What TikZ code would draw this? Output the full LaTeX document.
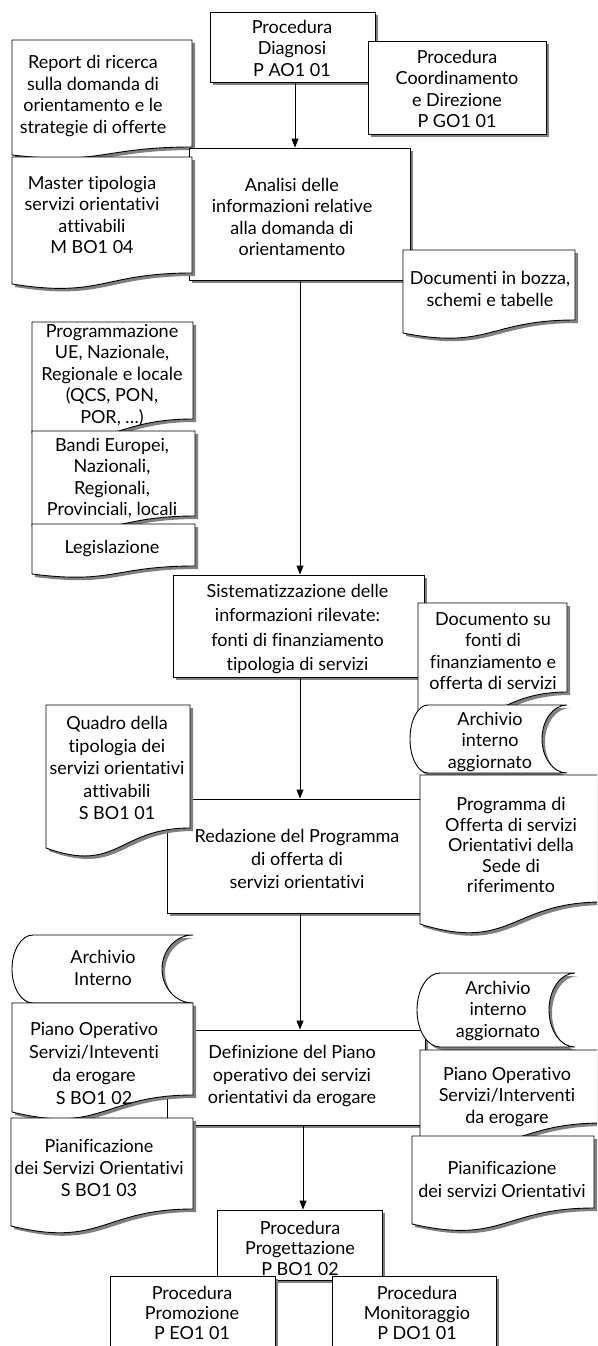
\documentclass[tikz,border=0pt]{standalone}
\usepackage{fontspec}
\setmainfont{Lato}[Ligatures={NoCommon}]
\usetikzlibrary{arrows.meta,shadows}
\definecolor{shadowgray}{gray}{0.5}
% document shape: x0, ytop, x1, ybottom-left, rise d
\newcommand{\docshape}[5]{%
  \pgfmathsetmacro{\dxm}{(#1+#3)/2}%
  \pgfmathsetmacro{\dyr}{#4-#5}%
  \pgfmathsetmacro{\dyl}{#4+1.3*#5}%
  \fill[shadowgray,xshift=3pt,yshift=-3pt] (#1,#2) -- (#3,#2) -- (#3,\dyr) .. controls (\dxm,\dyr) and (\dxm,\dyl) .. (#1,#4) -- cycle;
  \draw[shapeline] (#1,#2) -- (#3,#2) -- (#3,\dyr) .. controls (\dxm,\dyr) and (\dxm,\dyl) .. (#1,#4) -- cycle;}
% stored data shape: xL, ytop, xR, ybottom, left bulge, right bulge
\newcommand{\storeshape}[6]{%
  \pgfmathsetmacro{\sym}{(#2+#4)/2}%
  \pgfmathsetmacro{\sr}{(#4-#2)/2*0.5523}%
  \pgfmathsetmacro{\sya}{\sym-\sr}%
  \pgfmathsetmacro{\syb}{\sym+\sr}%
  \pgfmathsetmacro{\sxr}{#3-#6}%
  \pgfmathsetmacro{\sxrc}{#3-0.5523*#6}%
  \pgfmathsetmacro{\sxl}{#1-#5}%
  \pgfmathsetmacro{\sxlc}{#1-0.5523*#5}%
  \fill[shadowgray,xshift=3pt,yshift=-3pt] (#1,#2) -- (#3,#2) .. controls (\sxrc,#2) and (\sxr,\sya) .. (\sxr,\sym) .. controls (\sxr,\syb) and (\sxrc,#4) .. (#3,#4) -- (#1,#4) .. controls (\sxlc,#4) and (\sxl,\syb) .. (\sxl,\sym) .. controls (\sxl,\sya) and (\sxlc,#2) .. (#1,#2) -- cycle;
  \draw[shapeline] (#1,#2) -- (#3,#2) .. controls (\sxrc,#2) and (\sxr,\sya) .. (\sxr,\sym) .. controls (\sxr,\syb) and (\sxrc,#4) .. (#3,#4) -- (#1,#4) .. controls (\sxlc,#4) and (\sxl,\syb) .. (\sxl,\sym) .. controls (\sxl,\sya) and (\sxlc,#2) .. (#1,#2) -- cycle;}
\begin{document}
\begin{tikzpicture}[x=1pt,y=-1pt,
  txt/.style={font=\fontsize{18}{21.5}\selectfont, align=center, inner sep=0pt},
  shapeline/.style={draw=black, fill=white, line width=0.9pt},
  procbox/.style={shapeline, general shadow={fill=shadowgray, shadow xshift=3pt, shadow yshift=-3pt}, inner sep=0pt},
  arr/.style={line width=0.9pt, -{Triangle[length=9pt,width=7pt]}}]
\useasboundingbox (0,0) rectangle (597,1346);
\clip (0,0) rectangle (597,1346);
% top
\node[procbox, minimum width=165pt, minimum height=70pt] (diag) at (292.5,47) {};
\node[txt] (diagT) at (292,48) {Procedura\\Diagnosi\\P AO1 01};
\node[procbox, minimum width=178pt, minimum height=93pt] (coord) at (457,87.5) {};
\node[txt] (coordT) at (457,89) {Procedura\\Coordinamento\\e Direzione\\P GO1 01};
\docshape{12}{40}{192}{155}{8}
\node[txt] (report) at (93,96) {Report di ricerca\\sulla domanda di\\orientamento e le\\strategie di offerte};
\node[procbox, minimum width=221pt, minimum height=132pt] (analisi) at (299.5,214) {};
\node[txt] (analisiT) at (292,217) {Analisi delle\\informazioni relative\\alla domanda di\\orientamento};
\docshape{12}{157}{192}{284}{11}
\node[txt] (master) at (92,215) {Master tipologia\\servizi orientativi\\attivabili\\M BO1 04};
\docshape{403}{250}{575}{333}{13}
\node[txt] (bozza) at (490,289) {Documenti in bozza,\\schemi e tabelle};
% sources
\docshape{32}{322}{193}{433}{14}
\node[txt] (progr) at (112,375) {Programmazione\\UE, Nazionale,\\Regionale e locale\\(QCS, PON,\\POR, …)};
\docshape{32}{431}{195}{526}{10}
\node[txt] (bandi) at (112,478) {Bandi Europei,\\Nazionali,\\Regionali,\\Provinciali, locali};
\docshape{32}{524}{195}{574}{8}
\node[txt] (legis) at (112,549) {Legislazione};
% sistematizzazione
\node[procbox, minimum width=251pt, minimum height=102pt] (sist) at (298.5,626) {};
\node[txt, font=\fontsize{18}{24.5}\selectfont] (sistT) at (297.5,629) {Sistematizzazione delle\\informazioni rilevate:\\fonti di finanziamento\\tipologia di servizi};
\docshape{418}{603}{567}{712}{20}
\node[txt] (docfonti) at (493,651) {Documento su\\fonti di\\finanziamento e\\offerta di servizi};
\storeshape{428}{705}{567}{773}{18}{25}
\node[txt] (archA) at (490,742) {Archivio\\interno\\aggiornato};
% redazione
\node[procbox, minimum width=258pt, minimum height=114pt] (red) at (296,856) {};
\node[txt, font=\fontsize{18}{23}\selectfont] (redT) at (297,859) {Redazione del Programma\\di offerta di\\servizi orientativi};
\docshape{46}{705}{190}{848}{20}
\node[txt, font=\fontsize{18}{22.5}\selectfont] (quadro) at (117,768) {Quadro della\\tipologia dei\\servizi orientativi\\attivabili\\S BO1 01};
\docshape{420}{775}{602}{924}{22}
\node[txt, font=\fontsize{18}{20.5}\selectfont] (programma) at (511,845) {Programma di\\Offerta di servizi\\Orientativi della\\Sede di\\riferimento};
% definizione
\storeshape{33}{935}{193}{1003}{21}{31}
\node[txt] (archB) at (103,968) {Archivio\\Interno};
\node[procbox, minimum width=258pt, minimum height=95pt] (def) at (296,1077.5) {};
\node[txt, font=\fontsize{18}{22.5}\selectfont] (defT) at (292,1076) {Definizione del Piano\\operativo dei servizi\\orientativi da erogare};
\docshape{12}{1003}{193}{1112}{17}
\node[txt, font=\fontsize{18}{23}\selectfont] (pianoL) at (94,1063) {Piano Operativo\\Servizi/Inteventi\\da erogare\\S BO1 02};
\docshape{11}{1118}{193}{1226}{17}
\node[txt, font=\fontsize{18}{22}\selectfont] (pianifL) at (99,1168) {Pianificazione\\dei Servizi Orientativi\\S BO1 03};
\storeshape{440}{973}{575}{1047}{23}{26}
\node[txt] (archC) at (498,1011) {Archivio\\interno\\aggiornato};
\docshape{420}{1050}{602}{1140}{17}
\node[txt] (pianoR) at (507,1097) {Piano Operativo\\Servizi/Interventi\\da erogare};
\docshape{412}{1136}{594}{1224}{16}
\node[txt, font=\fontsize{18}{23}\selectfont] (pianifR) at (502,1179) {Pianificazione\\dei servizi Orientativi};
% bottom procedures
\node[procbox, minimum width=165pt, minimum height=70pt] (prog) at (299.5,1245) {};
\node[txt, font=\fontsize{18}{20.5}\selectfont] (progT) at (300,1248) {Procedura\\Progettazione\\P BO1 02};
\node[procbox, minimum width=165pt, minimum height=94pt] (promo) at (192.5,1323) {};
\node[txt, font=\fontsize{18}{20}\selectfont] (promoT) at (192,1313) {Procedura\\Promozione\\P EO1 01};
\node[procbox, minimum width=164pt, minimum height=94pt] (moni) at (414,1323) {};
\node[txt, font=\fontsize{18}{20}\selectfont] (moniT) at (417,1313) {Procedura\\Monitoraggio\\P DO1 01};
% connectors
\draw[arr] ([xshift=2.5pt]diag.south) -- ([xshift=2.5pt]diag.south |- analisi.north);
\draw[arr] ([xshift=0.5pt]analisi.south) -- ([xshift=0.5pt]analisi.south |- sist.north);
\draw[arr] ([xshift=1.5pt]sist.south) -- ([xshift=1.5pt]sist.south |- red.north);
\draw[arr] ([xshift=4pt]red.south) -- ([xshift=4pt]red.south |- def.north);
\draw[arr] ([xshift=7pt]def.south) -- ([xshift=7pt]def.south |- prog.north);
\end{tikzpicture}
\end{document}
